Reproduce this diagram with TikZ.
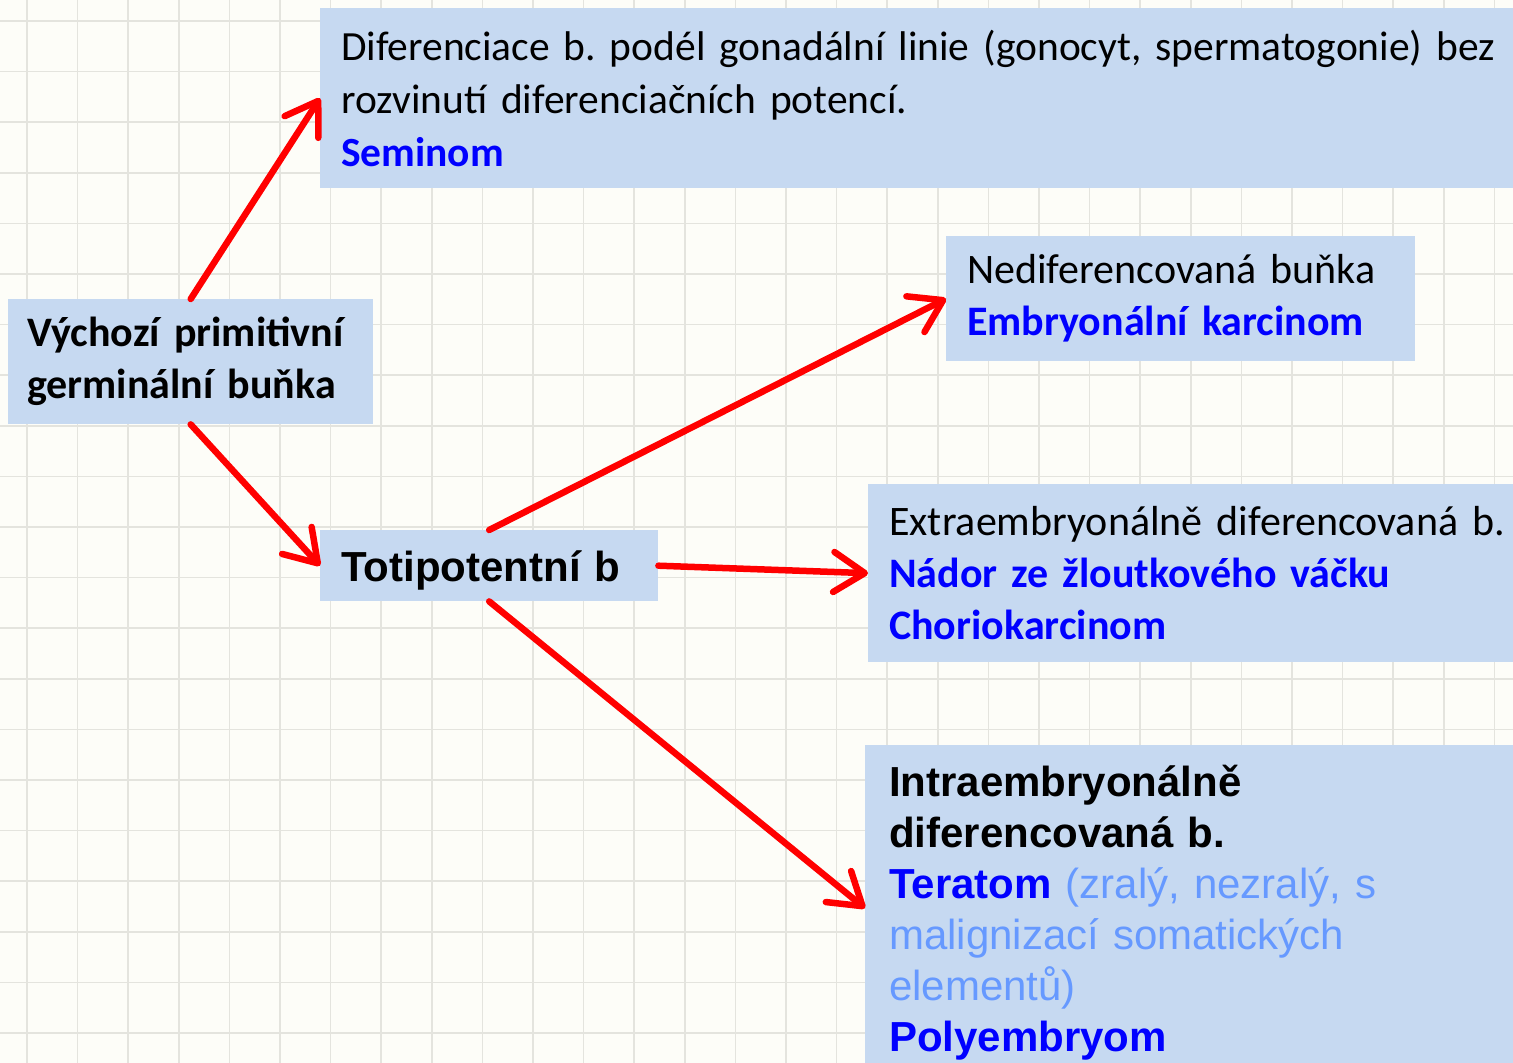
\documentclass[tikz,border=0pt]{standalone}
\usepackage{fontspec}
\setmainfont{Carlito}
\newfontfamily\arialfont{Liberation Sans}
\usetikzlibrary{arrows.meta}
\definecolor{boxblue}{HTML}{C6D9F1}
\definecolor{tumorblue}{HTML}{0000FF}
\definecolor{noteblue}{HTML}{6699FF}
\definecolor{gridgray}{HTML}{E4E4DE}
\definecolor{paper}{HTML}{FDFDF8}
\newcommand{\tumor}[1]{\textcolor{tumorblue}{\textbf{#1}}}
\newcommand{\note}[1]{\textcolor{noteblue}{#1}}
\frenchspacing
\tikzset{
  box/.style={fill=boxblue, anchor=north west, align=left, inner xsep=21pt, inner ysep=0pt,
    font=\fontsize{42}{52}\selectfont},
  arr/.style={red, line width=6.5pt, line cap=round,
    -{Straight Barb[length=31pt,width=40pt,round]}}
}
\begin{document}
\begin{tikzpicture}[x=1pt,y=-1pt]
\clip (0,0) rectangle (1513,1063);
\fill[paper] (0,0) rectangle (1513,1063);
\foreach \i in {0,...,29}
  \draw[gridgray, line width=1.5pt] ({27+50.6*\i},0) -- ({27+50.6*\i},1063);
\foreach \j in {0,...,20}
  \draw[gridgray, line width=1.5pt] (0,{21+50.6*\j}) -- (1513,{21+50.6*\j});

\node[box, minimum height=180pt, text width=1250pt, font=\fontsize{41.5}{53}\selectfont] (semi) at (320,8)
  {Diferenciace b. podél gonadální linie (gonocyt, spermatogonie) bez\\
   rozvinutí diferenciačních potencí.\\
   \tumor{Seminom}};
\node[box, minimum height=125pt, text width=327pt, inner xsep=19pt] (germ) at (8,299)
  {\textbf{Výchozí primitivní}\\\textbf{germinální buňka}};
\node[box, minimum height=71pt, text width=296pt, text depth=0pt, font=\arialfont\bfseries\fontsize{42}{51}\selectfont] (toti) at (320,530)
  {Totipotentní b};
\node[box, minimum height=125pt, text width=427pt] (nedif) at (946,236)
  {Nediferencovaná buňka\\\tumor{Embryonální karcinom}};
\node[box, minimum height=178pt, text width=700pt] (extra) at (868,484)
  {Extraembryonálně diferencovaná b.\\
   \tumor{Nádor ze žloutkového váčku}\\
   \tumor{Choriokarcinom}};
\node[box, minimum height=326pt, text width=700pt, text depth=255pt, inner xsep=24pt, font=\arialfont\fontsize{42}{51}\selectfont] (intra) at (865,745)
  {\textbf{Intraembryonálně}\\
   \textbf{diferencovaná b.}\\
   \tumor{Teratom} \note{(zralý, nezralý, s}\\
   \note{malignizací somatických}\\
   \note{elementů)}\\
   \tumor{Polyembryom}};

\draw[arr] (germ.north) -- (semi.west);
\draw[arr] (germ.south) -- (toti.west);
\draw[arr] (toti.north) -- (nedif.west);
\draw[arr] (toti.east) -- (extra.west);
\draw[arr] (toti.south) -- (intra.west);
\end{tikzpicture}
\end{document}
